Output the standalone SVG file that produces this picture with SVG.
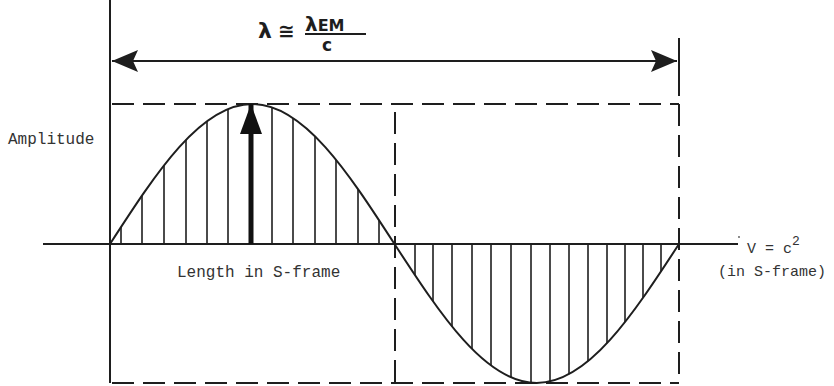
<svg xmlns="http://www.w3.org/2000/svg" width="834" height="386" viewBox="0 0 834 386">
<style>
.ln{stroke:#1e1e1e;stroke-width:2;fill:none}
.ds{stroke:#1e1e1e;stroke-width:2;fill:none;stroke-dasharray:22 9}
.h{stroke:#1e1e1e;stroke-width:1.6}
.mono{font-family:"Liberation Mono","DejaVu Sans Mono",monospace;fill:#333}
.hand{font-family:"DejaVu Sans","Liberation Sans",sans-serif;font-weight:bold;fill:#1e1e1e}
</style>
<defs>
<marker id="ah" viewBox="0 0 26 22" refX="26" refY="11" markerWidth="26" markerHeight="22" markerUnits="userSpaceOnUse" orient="auto-start-reverse">
<path d="M0,0 L26,11 L0,22 L5,11 Z" fill="#1e1e1e"/>
</marker>
<marker id="up" viewBox="0 0 30 22" refX="30" refY="11" markerWidth="30" markerHeight="22" markerUnits="userSpaceOnUse" orient="auto">
<path d="M0,0 L30,11 L0,22 Z" fill="#111"/>
</marker>
</defs>
<g id="frame">
<line class="ln" x1="110" y1="0" x2="110" y2="383"/>
<line class="ln" x1="679" y1="38" x2="679" y2="96"/>
<line class="ds" x1="679" y1="104" x2="679" y2="383"/>
<line class="ds" x1="112" y1="104" x2="679" y2="104"/>
<line class="ds" x1="395" y1="112" x2="395" y2="383"/>
<line class="ds" x1="112" y1="383" x2="679" y2="383"/>
<line class="ln" x1="43" y1="244" x2="738" y2="244"/>
<circle cx="739" cy="237" r="0.9" fill="#555"/>
</g>
<g id="wavelength">
<line class="ln" x1="112" y1="61" x2="677" y2="61" marker-start="url(#ah)" marker-end="url(#ah)"/>
<text class="hand" x="258" y="38" font-size="22">λ</text>
<text class="hand" x="278" y="38" font-size="20">≅</text>
<text class="hand" x="305" y="31" font-size="20">λ<tspan font-size="16">EM</tspan></text>
<line x1="305" y1="34" x2="366" y2="34" stroke="#1e1e1e" stroke-width="2"/>
<text class="hand" x="322" y="51" font-size="17">c</text>
</g>
<g id="wave">
<path class="ln" d="M110,244 C156.4,172.3 200.8,104 252.25,104 C303.7,104 348.1,172.3 394.5,244 C440.9,315.2 485.3,383 536.75,383 C588.2,383 632.6,315.2 679,244"/>
<g id="hatch-top">
<line class="h" x1="121" y1="244" x2="121" y2="227"/>
<line class="h" x1="142" y1="244" x2="142" y2="195.5"/>
<line class="h" x1="164" y1="244" x2="164" y2="165.4"/>
<line class="h" x1="186" y1="244" x2="186" y2="139.8"/>
<line class="h" x1="207" y1="244" x2="207" y2="121.1"/>
<line class="h" x1="228" y1="244" x2="228" y2="109"/>
<line class="h" x1="272" y1="244" x2="272" y2="107.3"/>
<line class="h" x1="293" y1="244" x2="293" y2="117.9"/>
<line class="h" x1="315" y1="244" x2="315" y2="136.3"/>
<line class="h" x1="336" y1="244" x2="336" y2="160"/>
<line class="h" x1="358" y1="244" x2="358" y2="189.1"/>
<line class="h" x1="379" y1="244" x2="379" y2="220.2"/>
</g>
<g id="hatch-bottom">
<line class="h" x1="415" y1="244" x2="415" y2="275.2"/>
<line class="h" x1="433" y1="244" x2="433" y2="301.3"/>
<line class="h" x1="452" y1="244" x2="452" y2="326.5"/>
<line class="h" x1="472" y1="244" x2="472" y2="349"/>
<line class="h" x1="491" y1="244" x2="491" y2="365.6"/>
<line class="h" x1="511" y1="244" x2="511" y2="377.4"/>
<line class="h" x1="531" y1="244" x2="531" y2="382.7"/>
<line class="h" x1="550" y1="244" x2="550" y2="381.5"/>
<line class="h" x1="569" y1="244" x2="569" y2="374.3"/>
<line class="h" x1="588" y1="244" x2="588" y2="361.3"/>
<line class="h" x1="607" y1="244" x2="607" y2="343.3"/>
<line class="h" x1="625" y1="244" x2="625" y2="321.9"/>
<line class="h" x1="643" y1="244" x2="643" y2="297.8"/>
<line class="h" x1="661" y1="244" x2="661" y2="271.5"/>
</g>
<line x1="251" y1="244" x2="251" y2="104" stroke="#111" stroke-width="5" marker-end="url(#up)"/>
</g>
<g id="labels">
<text class="mono" x="8" y="144" font-size="16">Amplitude</text>
<text class="mono" x="177" y="277" font-size="16">Length in S-frame</text>
<text class="mono" x="747" y="253" font-size="15">V = c<tspan dy="-8" font-size="13">2</tspan></text>
<text class="mono" x="718" y="276" font-size="15">(in S-frame)</text>
</g>
</svg>
